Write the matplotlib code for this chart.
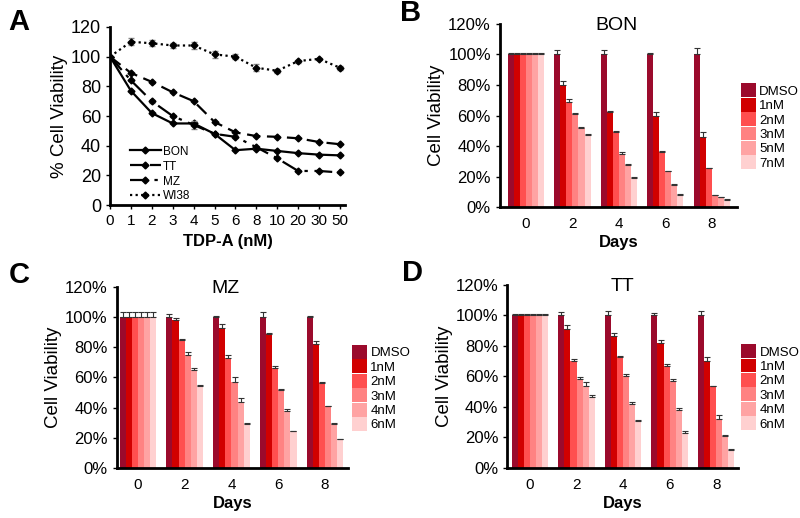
import numpy as np
import matplotlib
matplotlib.use("Agg")
import matplotlib.pyplot as plt
from matplotlib.ticker import PercentFormatter

plt.rcParams["font.family"] = ["Liberation Sans", "DejaVu Sans"]

# ---- panel A: dose response ---------------------------------------------------
doses = ["0", "1", "2", "3", "4", "5", "6", "8", "10", "20", "30", "50"]
bon = [100, 77, 62, 55, 55, 48, 37, 38, 36.5, 35, 34, 33.5]
tt = [100, 89, 83, 76, 70, 56, 49, 46.5, 46, 45, 42.5, 41]
mz = [100, 84, 70, 60, 54, 48, 46, 39, 31.5, 23, 23, 22]
wi38 = [100, 110, 109, 107.5, 107.5, 101.5, 100, 92.5, 90.5, 97, 98.5, 92.5]
wi38_dose_err = [0, 2.5, 2, 2, 2.5, 2.5, 1.5, 2.5, 1.5, 1, 0.5, 1.5]
mz_dose_err = [0, 0.5, 1, 0.5, 2.5, 0.5, 1, 0.5, 0.5, 0.5, 0.5, 0.5]

# ---- panels B-D: time course --------------------------------------------------
days = ["0", "2", "4", "6", "8"]
bon_labels = ["DMSO", "1nM", "2nM", "3nM", "5nM", "7nM"]
mz_labels = ["DMSO", "1nM", "2nM", "3nM", "4nM", "6nM"]
tt_labels = ["DMSO", "1nM", "2nM", "3nM", "4nM", "6nM"]

# rows = treatment, cols = day
bon_vals = [
    [100, 100, 100, 100, 100],
    [100, 80, 62.5, 60, 46],
    [100, 69, 49, 36, 25.5],
    [100, 61, 35, 23.5, 8],
    [100, 52, 27.5, 14.5, 6.5],
    [100, 47, 19, 8, 5],
]
bon_err = [
    [1, 3, 3, 1, 4],
    [1, 2.5, 0.5, 2, 3],
    [1, 2, 1, 0.5, 0.3],
    [1, 0.5, 1, 0.5, 0.3],
    [1, 0.5, 0.5, 0.5, 0.3],
    [1, 1, 0.5, 0.5, 0.3],
]
mz_vals = [
    [100, 100, 100, 100, 100],
    [100, 98, 92.5, 88.5, 82],
    [100, 85, 73, 66.5, 56.5],
    [100, 75, 57, 51.5, 41],
    [100, 65, 44, 38, 29],
    [100, 54.5, 29, 24.5, 19],
]
mz_err = [
    [3, 2, 0.5, 3, 0.5],
    [3, 1, 2.5, 1, 2],
    [3, 0.5, 2, 1, 0.5],
    [3, 1.5, 3.5, 0.5, 0.3],
    [3, 1.5, 2.5, 1, 1],
    [3, 0.5, 1, 0.3, 0.3],
]
tt_vals = [
    [100, 100, 100, 100, 100],
    [100, 91, 86.5, 81.5, 70],
    [100, 70, 72.5, 66.5, 53.5],
    [100, 58.5, 60, 57, 32],
    [100, 53.5, 42, 38, 21],
    [100, 46.5, 31, 23, 12],
]
tt_err = [
    [1, 2, 2.5, 1.5, 2.5],
    [1, 2.5, 2, 2, 2.5],
    [1, 1.5, 0.5, 1.5, 0.3],
    [1, 1, 1.5, 1, 2.5],
    [1, 2.5, 1, 1.5, 0.5],
    [1, 1, 0.3, 1.5, 0.3],
]

reds = ["#9b0a2c", "#d10000", "#ff4f4f", "#ff8282", "#ffa3a3", "#ffd0d0"]


def style_axes(ax):
    for s in ("top", "right"):
        ax.spines[s].set_visible(False)
    for s in ("left", "bottom"):
        ax.spines[s].set_linewidth(2)


def bar_panel(fig, rect, vals, errs, labels, title, title_x, xlim, leg_x):
    ax = fig.add_axes(rect)
    n = len(labels)
    width = 0.78 / n
    x = np.arange(len(days))
    for i in range(n):
        pos = x - 0.39 + width * (i + 0.5)
        ax.bar(pos, vals[i], width, color=reds[i], label=labels[i], linewidth=0)
        ax.errorbar(pos, vals[i], yerr=[np.zeros(len(days)), errs[i]], fmt="none",
                    ecolor="#333333", elinewidth=0.8, capsize=2.2, capthick=0.8)
    ax.set_xlim(*xlim)
    ax.set_ylim(0, 120)
    ax.set_yticks(np.arange(0, 121, 20))
    ax.yaxis.set_major_formatter(PercentFormatter(decimals=0))
    ax.set_xticks(x)
    ax.set_xticklabels(days)
    ax.tick_params(axis="x", length=0, labelsize=11, pad=7)
    ax.tick_params(axis="y", length=3, width=1, labelsize=12)
    style_axes(ax)
    ax.set_xlabel("Days", fontsize=12, fontweight="bold", labelpad=3)
    ax.set_ylabel("Cell Viability", fontsize=13.5, labelpad=2)
    ax.text(title_x, 0.99, title, transform=ax.transAxes, fontsize=14,
            ha="center", va="center")
    ax.legend(loc="center left", bbox_to_anchor=(leg_x, 0.44), frameon=False,
              fontsize=9.5, handlelength=1.15, handleheight=1.25, labelspacing=0,
              handletextpad=0.25, borderpad=0, borderaxespad=0)
    return ax


fig = plt.figure(figsize=(8, 5.18), dpi=100)

# panel A
ax = fig.add_axes([0.1375, 0.604, 0.294, 0.344])
xi = np.arange(len(doses))
kw = dict(color="black", marker="D", markersize=3.5, linewidth=1.6)
ax.plot(xi, bon, linestyle="-", label="BON", **kw)
ax.plot(xi, tt, linestyle=(0, (6, 3)), label="TT", **kw)
ax.errorbar(xi, mz, yerr=mz_dose_err, fmt="none", ecolor="#888888",
            elinewidth=0.8, capsize=2)
ax.plot(xi, mz, linestyle=(0, (8, 3, 1.5, 3)), label="MZ", **kw)
ax.errorbar(xi, wi38, yerr=wi38_dose_err, fmt="none", ecolor="#888888",
            elinewidth=0.8, capsize=2)
ax.plot(xi, wi38, linestyle=(0, (1, 1.5)), label="WI38", **kw)
ax.set_xlim(0, 11.25)
ax.set_ylim(0, 120)
ax.set_yticks(np.arange(0, 121, 20))
ax.set_xticks(xi)
ax.set_xticklabels(doses)
ax.tick_params(axis="x", length=3, width=1, labelsize=11)
ax.tick_params(axis="y", length=3, width=1, labelsize=13)
style_axes(ax)
ax.set_xlabel("TDP-A (nM)", fontsize=12, fontweight="bold", labelpad=4)
ax.set_ylabel("% Cell Viability", fontsize=13.5, labelpad=2)
ax.legend(loc="lower left", bbox_to_anchor=(0.085, 0.015), frameon=False,
          fontsize=8.5, handlelength=2.6, labelspacing=0.25, handletextpad=0.2,
          borderpad=0, borderaxespad=0)

bar_panel(fig, [0.625, 0.600, 0.296, 0.354], bon_vals, bon_err, bon_labels,
          "BON", 0.49, (-0.56, 4.54), 1.017)
bar_panel(fig, [0.146, 0.0965, 0.289, 0.35], mz_vals, mz_err, mz_labels,
          "MZ", 0.47, (-0.45, 4.49), 1.017)
bar_panel(fig, [0.634, 0.0965, 0.2885, 0.354], tt_vals, tt_err, tt_labels,
          "TT", 0.5, (-0.49, 4.47), 1.013)

# panel letters
for letter, lx, ly in [("A", 19, 22), ("B", 411, 13), ("C", 19, 275),
                       ("D", 412, 273)]:
    fig.text(lx / 800, 1 - ly / 518, letter, fontsize=21, fontweight="bold",
             ha="center", va="center")

fig.savefig("out.png", dpi=100)
